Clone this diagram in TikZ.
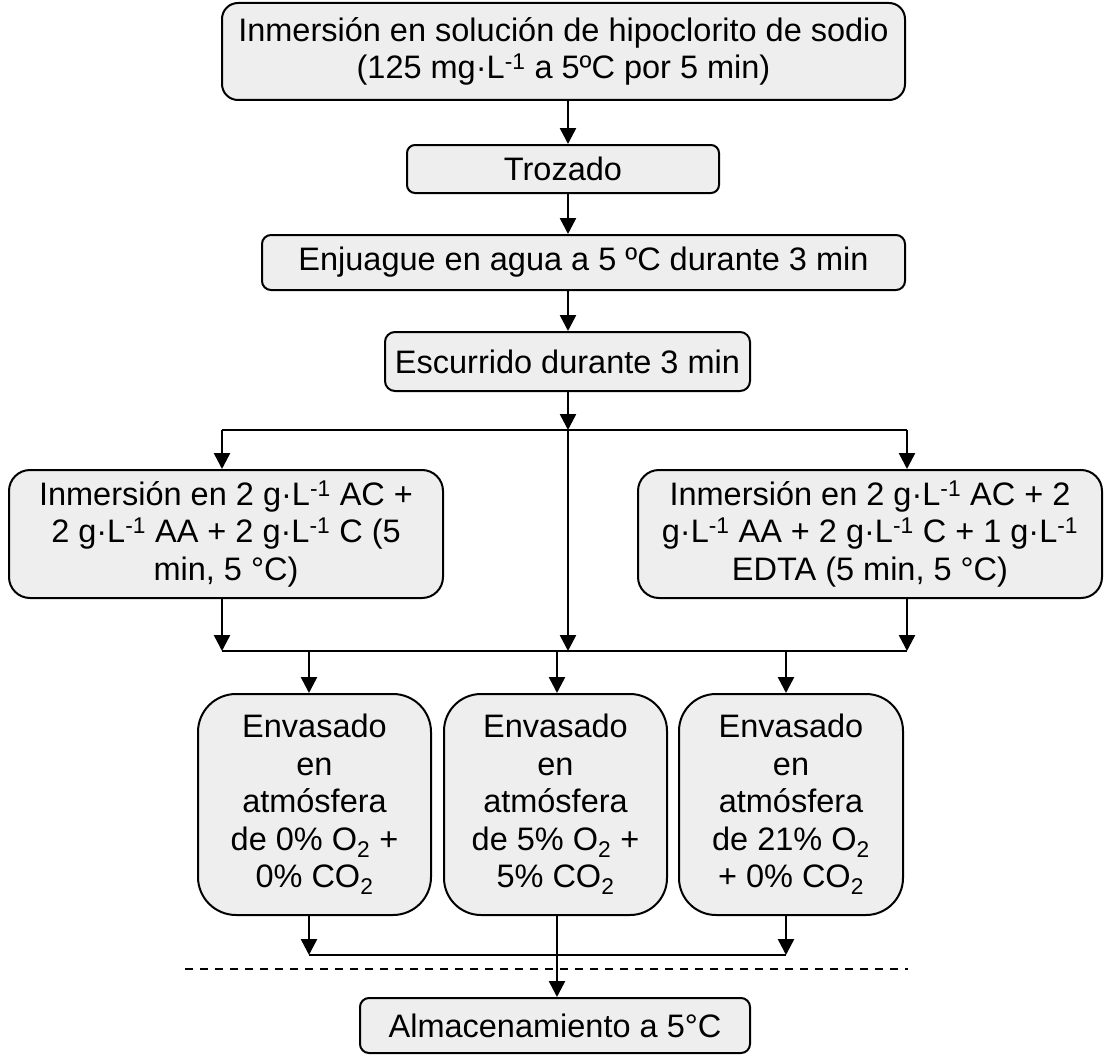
\documentclass[tikz,border=0pt]{standalone}
\usepackage{fontspec}
\setmainfont{Liberation Sans}
\usetikzlibrary{arrows.meta}
\definecolor{boxgray}{RGB}{238,238,238}
\newcommand{\gl}{g·L\textsuperscript{-1}}
\begin{document}
\begin{tikzpicture}[x=1pt,y=-1pt,
  box/.style={draw=black, line width=2pt, fill=boxgray, align=center,
    inner sep=0pt, font=\fontsize{32.5}{37.4}\selectfont},
  link/.style={line width=2.5pt},
  arr/.style={link, -{Triangle[length=16pt,width=16pt]}},
  sep/.style={line width=1.5pt, dash pattern=on 8pt off 7pt}]
\path[use as bounding box] (0,0) rectangle (1104,1057);

% process steps
\node[box, rounded corners=16pt, minimum width=683pt, minimum height=97pt] (n1) at (563.5,51.5)
  {Inmersión en solución de hipoclorito de sodio\\(125 mg·L\textsuperscript{-1} a 5ºC por 5 min)};
\node[box, rounded corners=8pt, minimum width=312pt, minimum height=48pt] (n2) at (563,169) {Trozado};
\node[box, rounded corners=9pt, minimum width=643pt, minimum height=55pt] (n3) at (583.5,262.5)
  {Enjuague en agua a 5 ºC durante 3 min};
\node[box, rounded corners=10pt, minimum width=365pt, minimum height=59pt] (n4) at (567.5,361.5)
  {Escurrido durante 3 min};
\node[box, rounded corners=21pt, minimum width=434pt, minimum height=128pt] (n5) at (226,534)
  {Inmersión en 2 \gl{} AC +\\2 \gl{} AA + 2 \gl{} C (5\\min, 5 °C)};
\node[box, rounded corners=21pt, minimum width=464pt, minimum height=128pt] (n6) at (870,534)
  {Inmersión en 2 \gl{} AC + 2\\\gl{} AA + 2 \gl{} C + 1 \gl{}\\EDTA (5 min, 5 °C)};
\node[box, rounded corners=38pt, minimum width=233pt, minimum height=221pt] (e1) at (314.5,804.5)
  {Envasado\\en\\atmósfera\\de 0\% O\textsubscript{2} +\\0\% CO\textsubscript{2}};
\node[box, rounded corners=37pt, minimum width=223pt, minimum height=221pt] (e2) at (555.5,804.5)
  {Envasado\\en\\atmósfera\\de 5\% O\textsubscript{2} +\\5\% CO\textsubscript{2}};
\node[box, rounded corners=37pt, minimum width=224pt, minimum height=221pt] (e3) at (791,804.5)
  {Envasado\\en\\atmósfera\\de 21\% O\textsubscript{2}\\+ 0\% CO\textsubscript{2}};
\node[box, rounded corners=9pt, minimum width=390pt, minimum height=55pt] (n7) at (555,1025.5)
  {Almacenamiento a 5°C};

% junction points
\coordinate (spine) at (568,0);
\coordinate (s1) at (568,430);
\coordinate (bl) at (222,430);
\coordinate (br) at (907,430);
\coordinate (ml) at (222,651);
\coordinate (mc) at (568,651);
\coordinate (mr) at (907,651);
\coordinate (a1) at (309,955);
\coordinate (a2) at (557,955);
\coordinate (a3) at (786,955);
\coordinate (dl) at (185,969);
\coordinate (dr) at (908,969);

% main sequence
\draw[arr] (n1.south -| spine) -- (n2.north -| spine);
\draw[arr] (n2.south -| spine) -- (n3.north -| spine);
\draw[arr] (n3.south -| spine) -- (n4.north -| spine);
\draw[arr] (n4.south -| spine) -- (s1);

% split into treatments
\draw[link] (bl) -- (br);
\draw[arr] (bl) -- (n5.north -| bl);
\draw[arr] (br) -- (n6.north -| br);
\draw[arr] (s1) -- (mc);
\draw[arr] (n5.south -| bl) -- (ml);
\draw[arr] (n6.south -| br) -- (mr);
\draw[link] (ml) -- (mr);

% packaging atmospheres
\draw[arr] (ml -| a1) -- (e1.north -| a1);
\draw[arr] (ml -| a2) -- (e2.north -| a2);
\draw[arr] (ml -| a3) -- (e3.north -| a3);

% storage
\draw[arr] (e1.south -| a1) -- (a1);
\draw[arr] (e3.south -| a3) -- (a3);
\draw[link] (a1) -- (a3);
\draw[arr] (e2.south -| a2) -- (n7.north -| a2);
\draw[sep] (dl) -- (dr);
\end{tikzpicture}
\end{document}
